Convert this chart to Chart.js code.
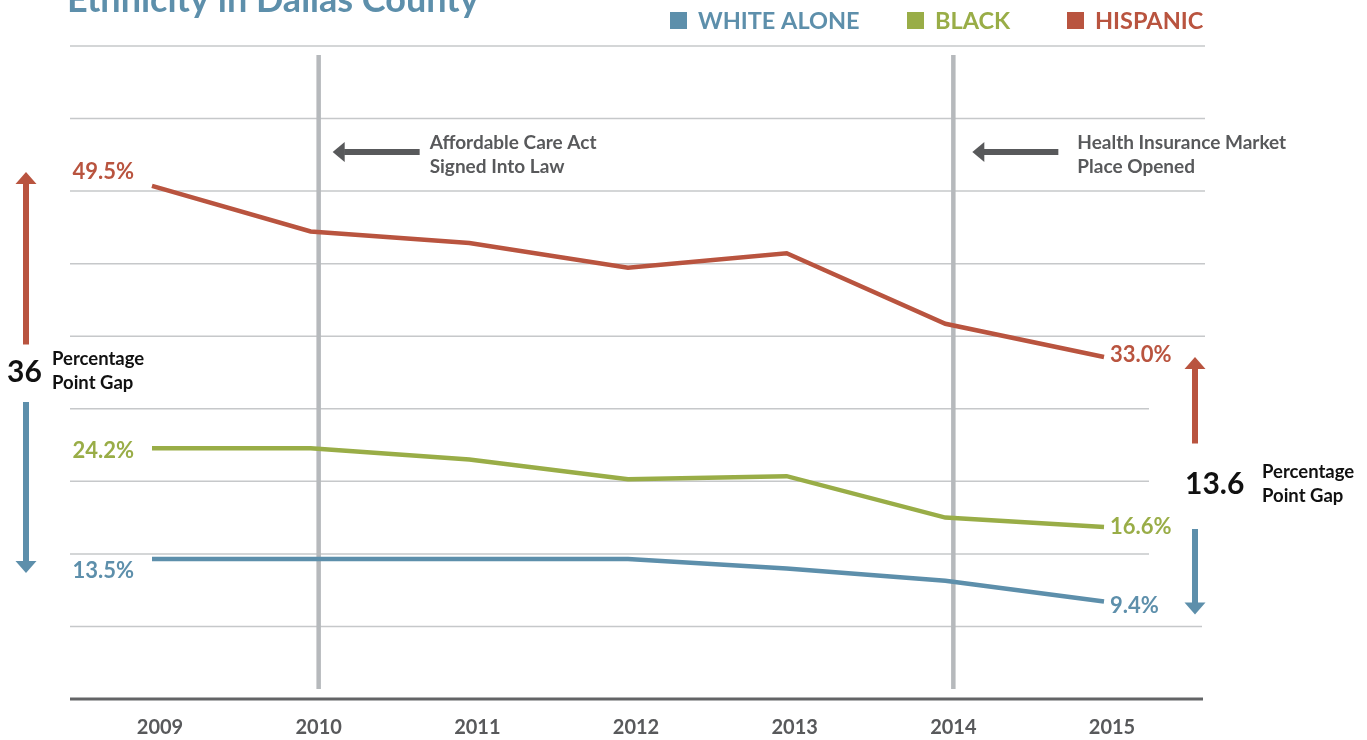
<!DOCTYPE html>
<html><head><meta charset="utf-8">
<script src="https://cdn.jsdelivr.net/npm/chart.js@4.4.0/dist/chart.umd.min.js"></script>
<style>html,body{margin:0;padding:0;background:#fff;overflow:hidden}canvas{display:block}</style>
</head><body>
<canvas id="c" width="1367" height="740"></canvas>
<script>
// ---- data ----
const years = ['2009', '2010', '2011', '2012', '2013', '2014', '2015'];
const whiteAlone = [13.5, 13.5, 13.5, 13.5, 12.6, 11.4, 9.4];
const black = [24.2, 24.2, 23.1, 21.2, 21.5, 17.5, 16.6];
const hispanic = [49.5, 45.1, 44.0, 41.6, 43.0, 36.2, 33.0];
const seriesNames = ['WHITE ALONE', 'BLACK', 'HISPANIC'];
const yMin = 0, yMax = 63, yStep = 7;
const titleText = 'Ethnicity in Dallas County';
const eventYears = ['2010', '2014'];
const eventTexts = [['Affordable Care Act', 'Signed Into Law'], ['Health Insurance Market', 'Place Opened']];
const gapValues = ['36', '13.6'];
const gapCaption = ['Percentage', 'Point Gap'];

// ---- style ----
const FONT = 'Lato, "Open Sans", sans-serif';
const COLORS = ['#5d8fab', '#99ad47', '#b9543f'];
const GRAY_TEXT = '#58595b';
const LABEL_OFFSET = 8;

function vArrow(ctx, x, yTail, yTip, color) {
  const dir = yTip < yTail ? -1 : 1;
  const headLen = 12, headW = 21, shaft = 6;
  const base = yTip - dir * headLen;
  ctx.fillStyle = color;
  ctx.fillRect(x - shaft / 2, Math.min(yTail, base), shaft, Math.abs(base - yTail) + 0.5);
  ctx.beginPath();
  ctx.moveTo(x, yTip);
  ctx.lineTo(x - headW / 2, base);
  ctx.lineTo(x + headW / 2, base);
  ctx.closePath();
  ctx.fill();
}
function hArrowLeft(ctx, xTail, xTip, y, color) {
  const headLen = 12, headW = 20, shaft = 6;
  ctx.fillStyle = color;
  ctx.fillRect(xTip + headLen - 0.5, y - shaft / 2, xTail - xTip - headLen + 0.5, shaft);
  ctx.beginPath();
  ctx.moveTo(xTip, y);
  ctx.lineTo(xTip + headLen, y - headW / 2);
  ctx.lineTo(xTip + headLen, y + headW / 2);
  ctx.closePath();
  ctx.fill();
}

const eventStyle = [{tip: 14, tail: 101, text: 111}, {tip: 19, tail: 105, text: 124}];
const labelDy = [{start: 19, end: 11}, {start: 10, end: 7}, {start: -7, end: 5}];
const legendX = [670, 907, 1067];

const overlay = {
  id: 'overlay',
  beforeDatasetsDraw(chart) {
    const {ctx} = chart;
    const x = chart.scales.x, y = chart.scales.y;
    ctx.save();
    // horizontal grid
    ctx.strokeStyle = '#c6c8ca';
    ctx.lineWidth = 1.5;
    let vals = y.ticks && y.ticks.length ? y.ticks.map(t => t.value) : [];
    if (!vals.length) for (let v = yMin; v <= yMax; v += yStep) vals.push(v);
    vals.forEach(v => {
      if (v === 0) return;
      const py = y.getPixelForValue(v);
      const right = (v >= 14 && v <= 28) ? 1149 : (v === 7 ? 1202 : 1205);
      ctx.beginPath(); ctx.moveTo(70, py); ctx.lineTo(right, py); ctx.stroke();
    });
    // event bars
    ctx.strokeStyle = '#b6b9bc';
    ctx.lineWidth = 4.5;
    eventYears.forEach(ev => {
      const px = x.getPixelForValue(years.indexOf(ev)) + LABEL_OFFSET;
      ctx.beginPath(); ctx.moveTo(px, 55); ctx.lineTo(px, 689); ctx.stroke();
    });
    // base axis line
    const py0 = y.getPixelForValue(0);
    ctx.strokeStyle = '#636466';
    ctx.lineWidth = 3;
    ctx.beginPath(); ctx.moveTo(70, py0); ctx.lineTo(1203, py0); ctx.stroke();
    ctx.restore();
  },
  afterDatasetsDraw(chart) {
    const {ctx} = chart;
    const x = chart.scales.x, y = chart.scales.y;
    ctx.save();
    ctx.textBaseline = 'alphabetic';
    // title (cut at top, as in the original)
    ctx.fillStyle = COLORS[0];
    ctx.font = `bold 36px ${FONT}`;
    ctx.textAlign = 'left';
    ctx.fillText(titleText, 67, 12);
    // legend
    ctx.font = `bold 23.5px ${FONT}`;
    chart.data.datasets.forEach((ds, i) => {
      ctx.fillStyle = ds.borderColor;
      ctx.fillRect(legendX[i], 12, 17, 17);
      ctx.fillText(ds.label, legendX[i] + 28, 29);
    });
    // end labels
    ctx.font = `bold 22px ${FONT}`;
    chart.data.datasets.forEach((ds, i) => {
      const meta = chart.getDatasetMeta(i);
      const n = meta.data.length;
      const p0 = meta.data[0], pn = meta.data[n - 1];
      ctx.fillStyle = ds.borderColor;
      ctx.textAlign = 'right';
      ctx.fillText(ds.data[0].toFixed(1) + '%', p0.x - 18, p0.y + labelDy[i].start);
      ctx.textAlign = 'left';
      ctx.fillText(ds.data[n - 1].toFixed(1) + '%', pn.x + 6, pn.y + labelDy[i].end);
    });
    // event annotations
    eventYears.forEach((ev, i) => {
      const px = x.getPixelForValue(years.indexOf(ev)) + LABEL_OFFSET;
      const st = eventStyle[i];
      hArrowLeft(ctx, px + st.tail, px + st.tip, 152, GRAY_TEXT);
      ctx.fillStyle = GRAY_TEXT;
      ctx.font = `bold 19px ${FONT}`;
      ctx.textAlign = 'left';
      eventTexts[i].forEach((t, k) => ctx.fillText(t, px + st.text, 149 + k * 24));
    });
    // gap arrows
    const hMeta = chart.getDatasetMeta(2).data, wMeta = chart.getDatasetMeta(0).data;
    const last = hMeta.length - 1;
    vArrow(ctx, 26, 344, hMeta[0].y - 14, COLORS[2]);
    vArrow(ctx, 26, 402, wMeta[0].y + 14, COLORS[0]);
    vArrow(ctx, 1195, 443, hMeta[last].y, COLORS[2]);
    vArrow(ctx, 1195, 529, wMeta[last].y + 13, COLORS[0]);
    // gap texts
    ctx.fillStyle = '#111';
    ctx.textAlign = 'left';
    ctx.font = `bold 30px ${FONT}`;
    ctx.fillText(gapValues[0], 7, 382);
    ctx.fillText(gapValues[1], 1185, 494);
    ctx.font = `bold 18.5px ${FONT}`;
    ctx.fillText(gapCaption[0], 52, 365);
    ctx.fillText(gapCaption[1], 52, 389);
    ctx.fillText(gapCaption[0], 1262, 478);
    ctx.fillText(gapCaption[1], 1262, 502);
    ctx.restore();
  }
};

const seriesData = [whiteAlone, black, hispanic];
new Chart(document.getElementById('c'), {
  type: 'line',
  data: {
    labels: years,
    datasets: seriesData.map((d, i) => ({
      label: seriesNames[i],
      data: d,
      borderColor: COLORS[i],
      backgroundColor: COLORS[i],
      borderWidth: 4.5,
      pointRadius: 0,
      pointHoverRadius: 0,
      tension: 0,
      fill: false
    }))
  },
  options: {
    responsive: false,
    animation: false,
    devicePixelRatio: 1,
    layout: {padding: {top: 46, left: 72.65, right: 183.65, bottom: 0}},
    plugins: {legend: {display: false}, tooltip: {enabled: false}, title: {display: false}},
    events: [],
    scales: {
      x: {
        type: 'category',
        offset: true,
        grid: {display: false, drawTicks: false},
        border: {display: false},
        ticks: {
          color: GRAY_TEXT,
          font: {family: FONT, size: 20, weight: 'bold'},
          padding: 17,
          labelOffset: LABEL_OFFSET,
          maxRotation: 0,
          autoSkip: false
        },
        afterFit(scale) { scale.height = 41; }
      },
      y: {
        min: yMin,
        max: yMax,
        grid: {display: false, drawTicks: false},
        border: {display: false},
        ticks: {display: false, stepSize: yStep}
      }
    }
  },
  plugins: [overlay]
});
</script>
</body></html>
